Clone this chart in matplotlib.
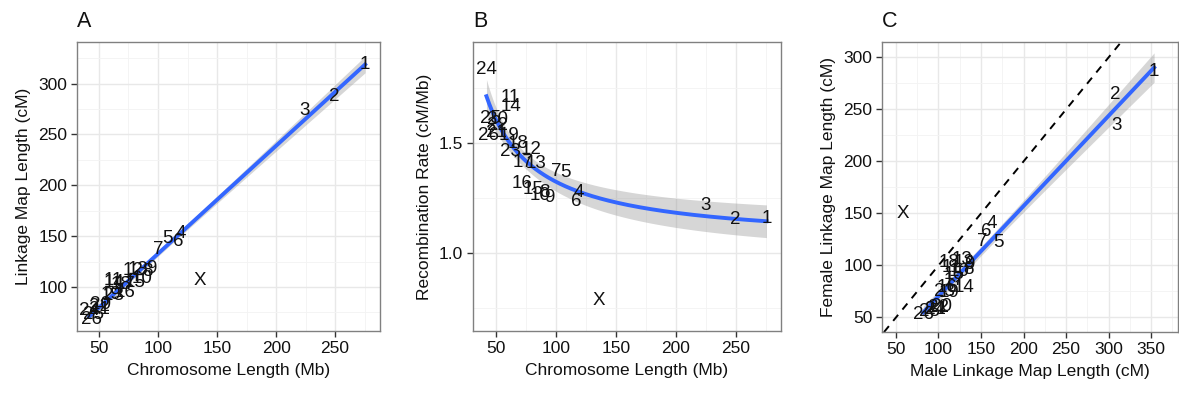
import numpy as np
import matplotlib
matplotlib.use("Agg")
import matplotlib.pyplot as plt
from matplotlib.ticker import MultipleLocator

plt.rcParams['font.family'] = ['Liberation Sans', 'DejaVu Sans']

# ---------------- data ----------------
chrom = ['1', '2', '3', '4', '5', '6', '7', '8', '9', '10', '11', '12', '13',
         '14', '15', '16', '17', '18', '19', '20', '21', '22', '23', '24', '25',
         '26', 'X']
length_mb = [275.4, 249.0, 224.3, 119.3, 107.9, 117.0, 100.1, 90.7, 94.7, 86.4,
             62.3, 79.1, 83.1, 62.7, 80.9, 71.7, 72.3, 68.6, 60.5, 51.2, 50.1,
             50.8, 62.3, 42.0, 45.4, 44.1, 135.4]
map_cm = [318.9, 287.3, 273.2, 152.1, 147.3, 144.5, 137.1, 115.6, 118.5, 108.8,
          106.3, 116.3, 116.9, 104.5, 104.4, 94.4, 102.2, 102.7, 92.8, 82.4,
          77.6, 80.3, 91.2, 77.1, 73.1, 67.7, 106.0]
male_cm = [353.6, 308.4, 309.6, 162.8, 171.0, 155.7, 151.0, 135.0, 136.0, 124.0,
           115.0, 130.0, 128.0, 130.0, 118.0, 110.0, 118.0, 112.0, 112.0, 104.0,
           97.0, 100.0, 107.0, 96.0, 90.0, 82.0, 57.8]
female_cm = [286.2, 264.4, 234.9, 140.4, 122.0, 132.3, 122.7, 96.0, 101.0, 94.0,
             98.0, 103.0, 106.0, 79.0, 91.0, 79.0, 86.0, 103.0, 74.0, 61.0,
             58.0, 60.0, 75.0, 58.0, 56.0, 53.0, 150.0]

L = np.array(length_mb)
M = np.array(map_cm)
rate = M / L
Mm = np.array(male_cm)
Ff = np.array(female_cm)
auto = np.array([c != 'X' for c in chrom])

BLUE = '#3366FF'
RIB = '#999999'
TXT = '#111111'


def fit_band(x, y, basis, xs, tq=2.064):
    X = np.column_stack([f(x) for f in basis])
    beta, *_ = np.linalg.lstsq(X, y, rcond=None)
    resid = y - X @ beta
    n, p = X.shape
    s2 = resid @ resid / (n - p)
    XtXi = np.linalg.inv(X.T @ X)
    Xs = np.column_stack([f(xs) for f in basis])
    yh = Xs @ beta
    se = np.sqrt(np.einsum('ij,jk,ik->i', Xs, XtXi, Xs) * s2)
    return yh, yh - tq * se, yh + tq * se


def style(ax, xlim, ylim, xmaj, ymaj, xlabel, ylabel, title):
    ax.set_xlim(*xlim)
    ax.set_ylim(*ylim)
    ax.xaxis.set_major_locator(MultipleLocator(xmaj))
    ax.yaxis.set_major_locator(MultipleLocator(ymaj))
    ax.xaxis.set_minor_locator(MultipleLocator(xmaj / 2))
    ax.yaxis.set_minor_locator(MultipleLocator(ymaj / 2))
    ax.grid(which='major', color='#E8E8E8', lw=1.0, zorder=0)
    ax.grid(which='minor', color='#F3F3F3', lw=0.6, zorder=0)
    ax.set_axisbelow(True)
    for sp in ax.spines.values():
        sp.set_color('#808080')
        sp.set_linewidth(1.0)
    ax.tick_params(which='major', direction='out', length=4, width=1.0,
                   color='#333333', labelsize=12.5, labelcolor=TXT, pad=3)
    ax.tick_params(which='minor', length=0)
    ax.set_xlabel(xlabel, fontsize=12.5, color=TXT, labelpad=5)
    ax.set_ylabel(ylabel, fontsize=12.5, color=TXT, labelpad=5)
    ax.set_title(title, loc='left', fontsize=15.5, color=TXT, pad=11)


def labels(ax, x, y):
    for c, xi, yi in zip(chrom, x, y):
        ax.text(xi, yi, c, ha='center', va='center', fontsize=13.5, color=TXT,
                zorder=5)


fig = plt.figure(figsize=(11.79, 3.94), dpi=100)
axA = fig.add_axes([0.0653, 0.160, 0.2570, 0.7334])
axB = fig.add_axes([0.4012, 0.160, 0.2612, 0.7334])
axC = fig.add_axes([0.7481, 0.157, 0.2510, 0.7360])

# Panel A
xs = np.linspace(L[auto].min(), L[auto].max(), 200)
yh, lo, hi = fit_band(L[auto], M[auto], [np.ones_like, lambda v: v], xs)
axA.fill_between(xs, lo, hi, color=RIB, alpha=0.4, lw=0, zorder=2)
axA.plot(xs, yh, color=BLUE, lw=2.8, zorder=3)
labels(axA, L, M)
style(axA, (31.4, 288), (56.7, 341), 50, 50,
      'Chromosome Length (Mb)', 'Linkage Map Length (cM)', 'A')

# Panel B
yh, lo, hi = fit_band(L[auto], rate[auto], [np.ones_like, lambda v: 1.0 / v], xs)
axB.fill_between(xs, lo, hi, color=RIB, alpha=0.4, lw=0, zorder=2)
axB.plot(xs, yh, color=BLUE, lw=2.8, zorder=3)
labels(axB, L, rate)
style(axB, (30.8, 287.5), (0.645, 1.96), 50, 0.5,
      'Chromosome Length (Mb)', 'Recombination Rate (cM/Mb)', 'B')

# Panel C
xs2 = np.linspace(Mm[auto].min(), Mm[auto].max(), 200)
yh, lo, hi = fit_band(Mm[auto], Ff[auto], [np.ones_like, lambda v: v], xs2)
axC.fill_between(xs2, lo, hi, color=RIB, alpha=0.4, lw=0, zorder=2)
axC.plot(xs2, yh, color=BLUE, lw=2.8, zorder=3)
axC.axline((0, 0), slope=1, color='black', lw=1.4, ls=(0, (4, 3.5)), zorder=2)
labels(axC, Mm, Ff)
style(axC, (33.6, 381.6), (35.9, 314.7), 50, 50,
      'Male Linkage Map Length (cM)', 'Female Linkage Map Length (cM)', 'C')

fig.savefig('out.png', dpi=100)
